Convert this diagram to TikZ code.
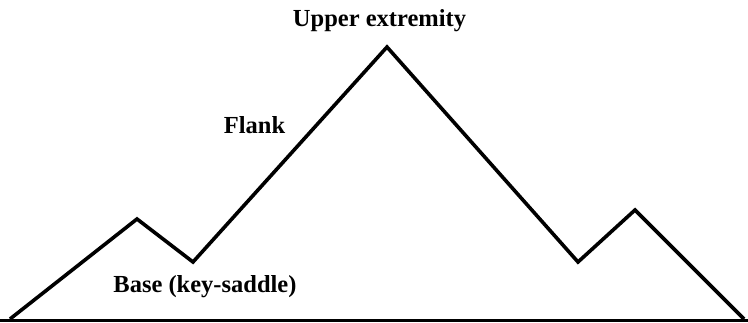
\documentclass[tikz,border=0pt]{standalone}
\usepackage{fontspec}
\setmainfont{Liberation Serif}
\usepackage{tikz}
\usetikzlibrary{positioning}
\tikzset{
  ridge/.style={black,line width=3.6pt,line join=miter},
  groundline/.style={black,line width=3pt},
  peaklabel/.style={font=\fontsize{24.5}{28}\selectfont\bfseries,anchor=base,inner sep=0pt}
}

\begin{document}
\begin{tikzpicture}[x=1pt,y=-1pt]
    \useasboundingbox (0,0) rectangle (748,322);
    % profile points
    \coordinate (foot-w) at (10,319);
    \coordinate (top-w) at (137,219);
    \coordinate (saddle-w) at (193,262);
    \coordinate (summit) at (387,47);
    \coordinate (saddle-e) at (578,262);
    \coordinate (top-e) at (635,210);
    \coordinate (foot-e) at (744,319);
    \coordinate (ground-w) at (0,320);
    \coordinate (ground-e) at (748,320);
    \draw[groundline] (ground-w) -- (ground-e);
    \draw[ridge] (foot-w) -- (top-w) -- (saddle-w) -- (summit) -- (saddle-e) -- (top-e) -- (foot-e);
    \node[peaklabel] (upper) at (379.5,26) {Upper extremity};
    \node[peaklabel] (flank) at (254.5,133) {Flank};
    \node[peaklabel] (base) at (205,292) {Base (key-saddle)};
  \end{tikzpicture}
\end{document}
